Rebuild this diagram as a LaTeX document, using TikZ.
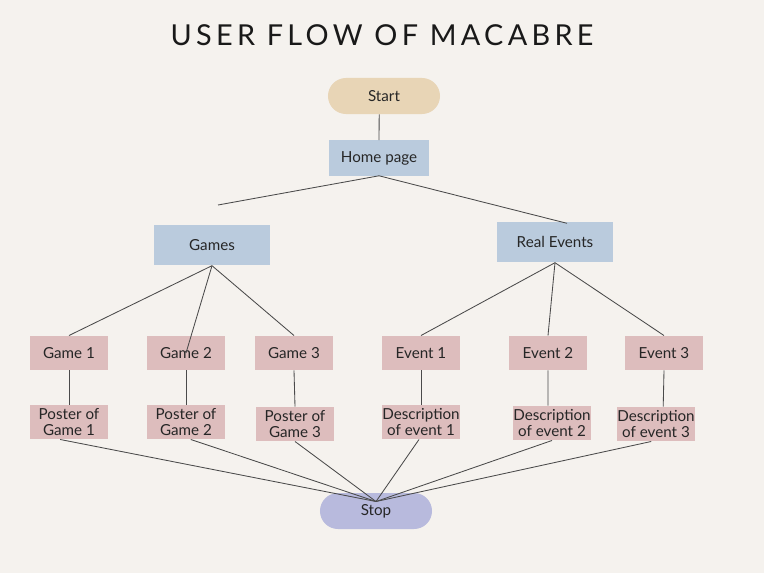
\documentclass[tikz,border=0pt]{standalone}
\usepackage{fontspec}
\setmainfont{Lato}
\newfontfamily\titlefont[LetterSpace=15]{Lato}

\definecolor{paper}{HTML}{F5F2EE}
\definecolor{sand}{HTML}{E8D5B6}
\definecolor{sky}{HTML}{BACBDD}
\definecolor{rose}{HTML}{DDBDBD}
\definecolor{lilac}{HTML}{B8BADD}
\definecolor{ink}{HTML}{4A4A4A}

\begin{document}
\begin{tikzpicture}[x=0.025cm, y=-0.025cm,
    every node/.style={font=\fontsize{10.8}{12}\selectfont, text=black!85, align=center, inner sep=0pt},
    pill/.style={rounded corners=0.45cm, minimum width=2.8cm, minimum height=0.9cm},
    menu/.style={fill=sky, minimum width=2.875cm, minimum height=1.02cm},
    page/.style={fill=rose, minimum width=1.95cm, minimum height=0.86cm},
    link/.style={draw=ink, line width=0.6pt}]
        \fill[paper] (0, 0) rectangle (764, 573);
        \useasboundingbox (0, 0) rectangle (764, 573);
        \node[text=black!90] (title) at (382, 35) {\titlefont\fontsize{20.5}{24}\selectfont USER FLOW OF MACABRE};
        % top of the flow
        \node[pill, fill=sand] (start) at (384, 96) {Start};
        \node[fill=sky, minimum width=2.5cm, minimum height=0.875cm] (home) at (379, 158) {Home page};
        \node[menu] (games) at (212, 245) {Games};
        \node[menu] (real) at (555, 242) {Real Events};
        \coordinate (gamesend) at (218, 205);
        % second level
        \node[page] (game1) at (69, 353) {Game 1};
        \node[page] (game2) at (186, 353) {Game 2};
        \node[page] (game3) at (294, 353) {Game 3};
        \node[page] (event1) at (421, 353) {Event 1};
        \node[page] (event2) at (548, 353) {Event 2};
        \node[page] (event3) at (664, 353) {Event 3};
        \node[page] (poster1) at (69, 422) {Poster of\\Game 1};
        \node[page] (poster2) at (186, 422) {Poster of\\Game 2};
        \node[page] (poster3) at (295, 424) {Poster of\\Game 3};
        \node[page] (desc1) at (421, 422) {Description\\of event 1};
        \node[page] (desc2) at (552, 423) {Description\\of event 2};
        \node[page] (desc3) at (656, 424) {Description\\of event 3};
        \node[pill, fill=lilac] (stop) at (376, 511) {Stop};
        \coordinate (meet) at ([yshift=-0.22cm]stop.north);
        % connectors
        \draw[link] ([xshift=-0.12cm]start.south) -- (home.north);
        \draw[link] (home.south) -- (gamesend);
        \draw[link] (home.south) -- ([xshift=0.3cm, yshift=-0.05cm]real.north);
        \draw[link] (games.south) -- (game1.north);
        \draw[link] (games.south) -- (game2.center);
        \draw[link] (games.south) -- (game3.north);
        \draw[link] (real.south) -- (event1.north);
        \draw[link] (real.south) -- (event2.north);
        \draw[link] (real.south) -- (event3.north);
        \draw[link] (game1.south) -- (poster1.north);
        \draw[link] (game2.south) -- (poster2.north);
        \draw[link] (game3.south) -- (poster3.north);
        \draw[link] (event1.south) -- (desc1.north);
        \draw[link] (event2.south) -- ([xshift=-0.1cm]desc2.north);
        \draw[link] (event3.south) -- ([xshift=0.18cm]desc3.north);
        \draw[link] ([xshift=-0.22cm]poster1.south) -- (meet);
        \draw[link] ([xshift=0.12cm]poster2.south) -- (meet);
        \draw[link] (poster3.south) -- (meet);
        \draw[link] ([xshift=-0.05cm]desc1.south) -- (meet);
        \draw[link] (desc2.south) -- (meet);
        \draw[link] ([xshift=-0.12cm]desc3.south) -- (meet);
    \end{tikzpicture}
\end{document}
